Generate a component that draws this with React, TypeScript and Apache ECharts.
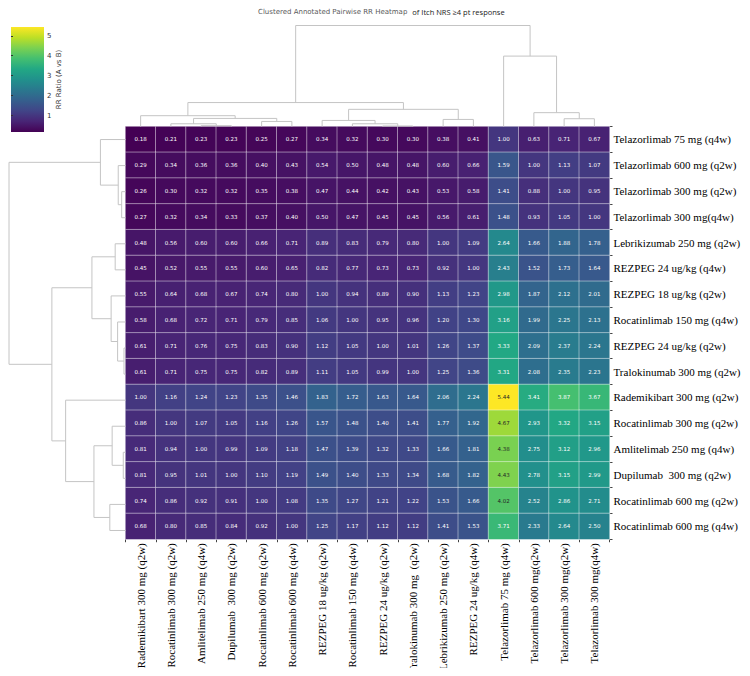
import React, { useEffect, useRef } from "react";
import * as echarts from "echarts";

// Column order (left to right) after clustering
const colLabels = [
  "Rademikibart 300 mg (q2w)",
  "Rocatinlimab 300 mg (q2w)",
  "Amlitelimab 250 mg (q4w)",
  "Dupilumab  300 mg (q2w)",
  "Rocatinlimab 600 mg (q2w)",
  "Rocatinlimab 600 mg (q4w)",
  "REZPEG 18 ug/kg (q2w)",
  "Rocatinlimab 150 mg (q4w)",
  "REZPEG 24 ug/kg (q2w)",
  "Tralokinumab 300 mg  (q2w)",
  "Lebrikizumab 250 mg (q2w)",
  "REZPEG 24 ug/kg (q4w)",
  "Telazorlimab 75 mg (q4w)",
  "Telazorlimab 600 mg(q2w)",
  "Telazorlimab 300 mg(q2w)",
  "Telazorlimab 300 mg(q4w)",
];

// Row order (top to bottom) after clustering
const rowLabels = [
  "Telazorlimab 75 mg (q4w)",
  "Telazorlimab 600 mg (q2w)",
  "Telazorlimab 300 mg (q2w)",
  "Telazorlimab 300 mg(q4w)",
  "Lebrikizumab 250 mg (q2w)",
  "REZPEG 24 ug/kg (q4w)",
  "REZPEG 18 ug/kg (q2w)",
  "Rocatinlimab 150 mg (q4w)",
  "REZPEG 24 ug/kg (q2w)",
  "Tralokinumab 300 mg (q2w)",
  "Rademikibart 300 mg (q2w)",
  "Rocatinlimab 300 mg (q2w)",
  "Amlitelimab 250 mg (q4w)",
  "Dupilumab  300 mg (q2w)",
  "Rocatinlimab 600 mg (q2w)",
  "Rocatinlimab 600 mg (q4w)",
];

// Pairwise response-rate ratios (row A vs column B)
const rrValues = [
  [0.18, 0.21, 0.23, 0.23, 0.25, 0.27, 0.34, 0.32, 0.30, 0.30, 0.38, 0.41, 1.00, 0.63, 0.71, 0.67],
  [0.29, 0.34, 0.36, 0.36, 0.40, 0.43, 0.54, 0.50, 0.48, 0.48, 0.60, 0.66, 1.59, 1.00, 1.13, 1.07],
  [0.26, 0.30, 0.32, 0.32, 0.35, 0.38, 0.47, 0.44, 0.42, 0.43, 0.53, 0.58, 1.41, 0.88, 1.00, 0.95],
  [0.27, 0.32, 0.34, 0.33, 0.37, 0.40, 0.50, 0.47, 0.45, 0.45, 0.56, 0.61, 1.48, 0.93, 1.05, 1.00],
  [0.48, 0.56, 0.60, 0.60, 0.66, 0.71, 0.89, 0.83, 0.79, 0.80, 1.00, 1.09, 2.64, 1.66, 1.88, 1.78],
  [0.45, 0.52, 0.55, 0.55, 0.60, 0.65, 0.82, 0.77, 0.73, 0.73, 0.92, 1.00, 2.43, 1.52, 1.73, 1.64],
  [0.55, 0.64, 0.68, 0.67, 0.74, 0.80, 1.00, 0.94, 0.89, 0.90, 1.13, 1.23, 2.98, 1.87, 2.12, 2.01],
  [0.58, 0.68, 0.72, 0.71, 0.79, 0.85, 1.06, 1.00, 0.95, 0.96, 1.20, 1.30, 3.16, 1.99, 2.25, 2.13],
  [0.61, 0.71, 0.76, 0.75, 0.83, 0.90, 1.12, 1.05, 1.00, 1.01, 1.26, 1.37, 3.33, 2.09, 2.37, 2.24],
  [0.61, 0.71, 0.75, 0.75, 0.82, 0.89, 1.11, 1.05, 0.99, 1.00, 1.25, 1.36, 3.31, 2.08, 2.35, 2.23],
  [1.00, 1.16, 1.24, 1.23, 1.35, 1.46, 1.83, 1.72, 1.63, 1.64, 2.06, 2.24, 5.44, 3.41, 3.87, 3.67],
  [0.86, 1.00, 1.07, 1.05, 1.16, 1.26, 1.57, 1.48, 1.40, 1.41, 1.77, 1.92, 4.67, 2.93, 3.32, 3.15],
  [0.81, 0.94, 1.00, 0.99, 1.09, 1.18, 1.47, 1.39, 1.32, 1.33, 1.66, 1.81, 4.38, 2.75, 3.12, 2.96],
  [0.81, 0.95, 1.01, 1.00, 1.10, 1.19, 1.49, 1.40, 1.33, 1.34, 1.68, 1.82, 4.43, 2.78, 3.15, 2.99],
  [0.74, 0.86, 0.92, 0.91, 1.00, 1.08, 1.35, 1.27, 1.21, 1.22, 1.53, 1.66, 4.02, 2.52, 2.86, 2.71],
  [0.68, 0.80, 0.85, 0.84, 0.92, 1.00, 1.25, 1.17, 1.12, 1.12, 1.41, 1.53, 3.71, 2.33, 2.64, 2.50],
];

// Linkage tables in display-order leaf indices: [childA, childB, mergeHeight];
// merged clusters get ids 16, 17, ... in row order.
const colLinkage = [
  [2, 3, 0.8],
  [8, 9, 0.5],
  [1, 16, 2.7],
  [7, 17, 2.7],
  [4, 5, 5.0],
  [6, 19, 6.0],
  [10, 11, 7.0],
  [14, 15, 7.7],
  [18, 20, 8.0],
  [0, 24, 10.7],
  [13, 23, 13.7],
  [21, 22, 17.0],
  [25, 27, 23.7],
  [12, 26, 69.7],
  [28, 29, 100.0],
];

const rowLinkage = [
  [8, 9, 1.5],
  [12, 13, 2.2],
  [2, 3, 3.8],
  [1, 18, 7.2],
  [7, 16, 7.8],
  [4, 5, 10.2],
  [11, 17, 13.2],
  [6, 20, 14.2],
  [14, 15, 15.5],
  [0, 19, 24.8],
  [22, 24, 31.2],
  [21, 23, 33.2],
  [10, 26, 59.2],
  [27, 28, 72.8],
  [25, 29, 115.2],
];

const colorbarTicks = [1, 2, 3, 4, 5];

const viridis = [
  "#440154", "#482475", "#414487", "#355f8d", "#2a788e",
  "#21918c", "#22a884", "#44bf70", "#7ad151", "#bddf26", "#fde725",
];

const N = colLabels.length;
const flat = rrValues.flat();
const vMin = Math.min(...flat);
const vMax = Math.max(...flat);

// Build U-shaped link segments [posA, hA, posB, hB, h] from a linkage table
function dendroSegments(linkage: number[][], nLeaves: number) {
  const pos: number[] = [];
  const hgt: number[] = [];
  for (let i = 0; i < nLeaves; i++) {
    pos[i] = i + 0.5;
    hgt[i] = 0;
  }
  const segs: number[][] = [];
  linkage.forEach(([a, b, h], k) => {
    segs.push([pos[a], hgt[a], pos[b], hgt[b], h]);
    pos[nLeaves + k] = (pos[a] + pos[b]) / 2;
    hgt[nLeaves + k] = h;
  });
  return segs;
}

const GRID_LEFT = 125.5;
const GRID_TOP = 126.5;
const GRID_W = 484;
const GRID_H = 417;
const LINK_COLOR = "#c4c4c4";

export default function App() {
  const ref = useRef<HTMLDivElement>(null);

  useEffect(() => {
    if (!ref.current) return;
    const chart = echarts.init(ref.current, null, { renderer: "svg" });

    const heatData: any[] = [];
    rrValues.forEach((row, r) =>
      row.forEach((v, c) => {
        const item: any = { value: [c, r, v] };
        if (v >= 4.0) item.label = { color: "#262626" };
        heatData.push(item);
      })
    );

    const colSegs = dendroSegments(colLinkage, N);
    const rowSegs = dendroSegments(rowLinkage, N);
    const colMaxH = Math.max(...colLinkage.map((l) => l[2]));
    const rowMaxH = Math.max(...rowLinkage.map((l) => l[2]));

    const serif = "'Liberation Serif', 'Times New Roman', serif";
    const sans = "'DejaVu Sans', sans-serif";

    const option: any = {
      animation: false,
      backgroundColor: "#ffffff",
      title: {
        text: "{a|Clustered Annotated Pairwise RR Heatmap} {b|of Itch NRS ≥4 pt response}",
        left: 258,
        top: 3,
        padding: 0,
        textStyle: {
          fontWeight: "normal",
          rich: {
            a: { fontFamily: sans, fontSize: 7, fontWeight: "normal", color: "#5a5a5a" },
            b: { fontFamily: "'Open Sans', sans-serif", fontSize: 7.5, fontWeight: "normal", color: "#1a1a1a" },
          },
        },
      },
      grid: [
        { left: GRID_LEFT, top: GRID_TOP, width: GRID_W, height: GRID_H },
        { left: GRID_LEFT, top: GRID_TOP - 101, width: GRID_W, height: 101 },
        { left: 9, top: GRID_TOP, width: GRID_LEFT - 9, height: GRID_H },
        {
          left: 11,
          top: 27,
          width: 33,
          height: 105,
          show: true,
          borderWidth: 0,
          backgroundColor: new echarts.graphic.LinearGradient(
            0, 1, 0, 0,
            viridis.map((c, i) => ({ offset: i / (viridis.length - 1), color: c }))
          ),
        },
      ],
      xAxis: [
        {
          gridIndex: 0,
          type: "category",
          data: colLabels,
          position: "bottom",
          axisLine: { show: false },
          axisTick: { show: true, length: 3, lineStyle: { color: "#444" } },
          axisLabel: {
            rotate: 90,
            interval: 0,
            margin: 4,
            fontFamily: serif,
            fontSize: 11,
            color: "#000",
          },
          splitLine: { show: false },
        },
        { gridIndex: 1, type: "value", min: 0, max: N, show: false },
        { gridIndex: 2, type: "value", min: 0, max: rowMaxH, inverse: true, show: false },
        { gridIndex: 3, type: "value", min: 0, max: 1, show: false },
      ],
      yAxis: [
        {
          gridIndex: 0,
          type: "category",
          data: rowLabels,
          inverse: true,
          position: "right",
          axisLine: { show: false },
          axisTick: { show: true, length: 3, lineStyle: { color: "#444" } },
          axisLabel: {
            interval: 0,
            margin: 4,
            fontFamily: serif,
            fontSize: 11,
            color: "#000",
          },
          splitLine: { show: false },
        },
        { gridIndex: 1, type: "value", min: 0, max: colMaxH, show: false },
        { gridIndex: 2, type: "value", min: 0, max: N, inverse: true, show: false },
        {
          gridIndex: 3,
          type: "value",
          min: vMin,
          max: vMax,
          position: "right",
          axisLine: { show: false },
          splitLine: { show: false },
          axisTick: {
            show: true,
            length: 2,
            customValues: colorbarTicks,
            lineStyle: { color: "#333" },
          },
          axisLabel: {
            customValues: colorbarTicks,
            margin: 3,
            fontFamily: sans,
            fontSize: 7,
            color: "#333",
          },
          name: "RR Ratio (A vs B)",
          nameLocation: "middle",
          nameRotate: 90,
          nameGap: 11,
          nameTextStyle: { fontFamily: sans, fontSize: 7, color: "#333" },
        },
      ],
      visualMap: {
        type: "continuous",
        show: false,
        seriesIndex: 0,
        min: vMin,
        max: vMax,
        inRange: { color: viridis },
      },
      series: [
        {
          type: "heatmap",
          xAxisIndex: 0,
          yAxisIndex: 0,
          data: heatData,
          itemStyle: { borderColor: "rgba(255,255,255,0.55)", borderWidth: 0.8 },
          label: {
            show: true,
            fontFamily: sans,
            fontSize: 5.5,
            color: "#ffffff",
            formatter: (p: any) => p.value[2].toFixed(2),
          },
          emphasis: { disabled: true },
        },
        {
          type: "custom",
          xAxisIndex: 1,
          yAxisIndex: 1,
          data: colSegs,
          silent: true,
          clip: false,
          renderItem: (_p: any, api: any) => {
            const xa = api.value(0), ha = api.value(1), xb = api.value(2), hb = api.value(3), h = api.value(4);
            return {
              type: "polyline",
              shape: {
                points: [api.coord([xa, ha]), api.coord([xa, h]), api.coord([xb, h]), api.coord([xb, hb])],
              },
              style: { stroke: LINK_COLOR, lineWidth: 1, fill: null },
            };
          },
        },
        {
          type: "custom",
          xAxisIndex: 2,
          yAxisIndex: 2,
          data: rowSegs,
          silent: true,
          clip: false,
          encode: { x: [1, 3, 4], y: [0, 2] },
          renderItem: (_p: any, api: any) => {
            const ya = api.value(0), ha = api.value(1), yb = api.value(2), hb = api.value(3), h = api.value(4);
            return {
              type: "polyline",
              shape: {
                points: [api.coord([ha, ya]), api.coord([h, ya]), api.coord([h, yb]), api.coord([hb, yb])],
              },
              style: { stroke: LINK_COLOR, lineWidth: 1, fill: null },
            };
          },
        },
      ],
    };

    chart.setOption(option);
    return () => chart.dispose();
  }, []);

  return <div ref={ref} style={{ width: 750, height: 676, margin: -8 }} />;
}
